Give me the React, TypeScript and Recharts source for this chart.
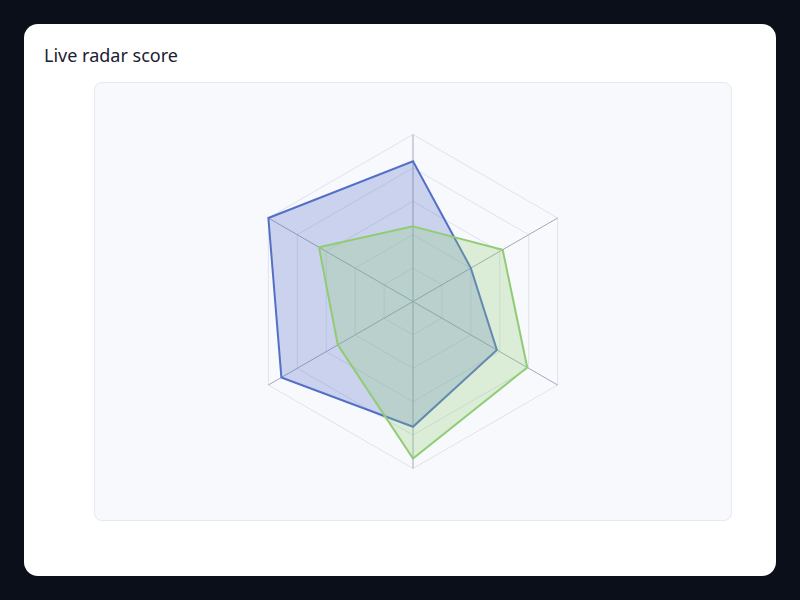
import React from 'react';
import { RadarChart, Radar, PolarGrid, PolarAngleAxis, PolarRadiusAxis } from 'recharts';

const categories = ['A', 'B', 'C', 'D', 'E', 'F'];
const seriesBlue = [84, 40, 58, 75, 91, 100];
const seriesGreen = [45, 62, 79, 94, 52, 65];
const radiusDomain: [number, number] = [0, 100];

const data = categories.map((c, i) => ({ name: c, blue: seriesBlue[i], green: seriesGreen[i] }));

export default function App() {
  return (
    <div style={{ position: 'fixed', left: 0, top: 0, width: 800, height: 600, background: '#0b0f1a' }}>
      <div
        style={{
          position: 'absolute',
          left: 24,
          top: 24,
          width: 752,
          height: 552,
          background: '#ffffff',
          borderRadius: 14,
        }}
      >
        <div
          style={{
            position: 'absolute',
            left: 20,
            top: 18,
            fontFamily: '"Noto Sans", "Open Sans", sans-serif',
            fontSize: 18,
            color: '#1b2132',
            lineHeight: '26px',
          }}
        >
          Live radar score
        </div>
        <div
          style={{
            position: 'absolute',
            left: 70,
            top: 58,
            width: 636,
            height: 437,
            background: '#f8f9fd',
            border: '1px solid #e6e9f1',
            borderRadius: 8,
          }}
        >
          <RadarChart
            width={638}
            height={439}
            data={data}
            cx={319 - 1}
            cy={219.5 - 1}
            outerRadius={167}
            margin={{ top: 0, right: 0, bottom: 0, left: 0 }}
            style={{ position: 'absolute', left: 0, top: 0 }}
          >
            <PolarGrid radialLines={false} stroke="#dfe3ec" strokeWidth={1} />
            <PolarGrid radialLines={true} polarRadius={[0]} stroke="#9ea9bd" strokeWidth={1} />
            <PolarAngleAxis dataKey="name" tick={false} tickLine={false} axisLine={false} />
            <PolarRadiusAxis
              angle={90}
              domain={radiusDomain}
              tickCount={6}
              tick={false}
              tickLine={false}
              axisLine={false}
            />
            <Radar
              dataKey="blue"
              stroke="#5470c6"
              strokeWidth={2}
              fill="#5470c6"
              fillOpacity={0.28}
              isAnimationActive={false}
              dot={false}
            />
            <Radar
              dataKey="green"
              stroke="#91cc75"
              strokeWidth={2}
              fill="#91cc75"
              fillOpacity={0.28}
              isAnimationActive={false}
              dot={false}
            />
          </RadarChart>
        </div>
      </div>
    </div>
  );
}
